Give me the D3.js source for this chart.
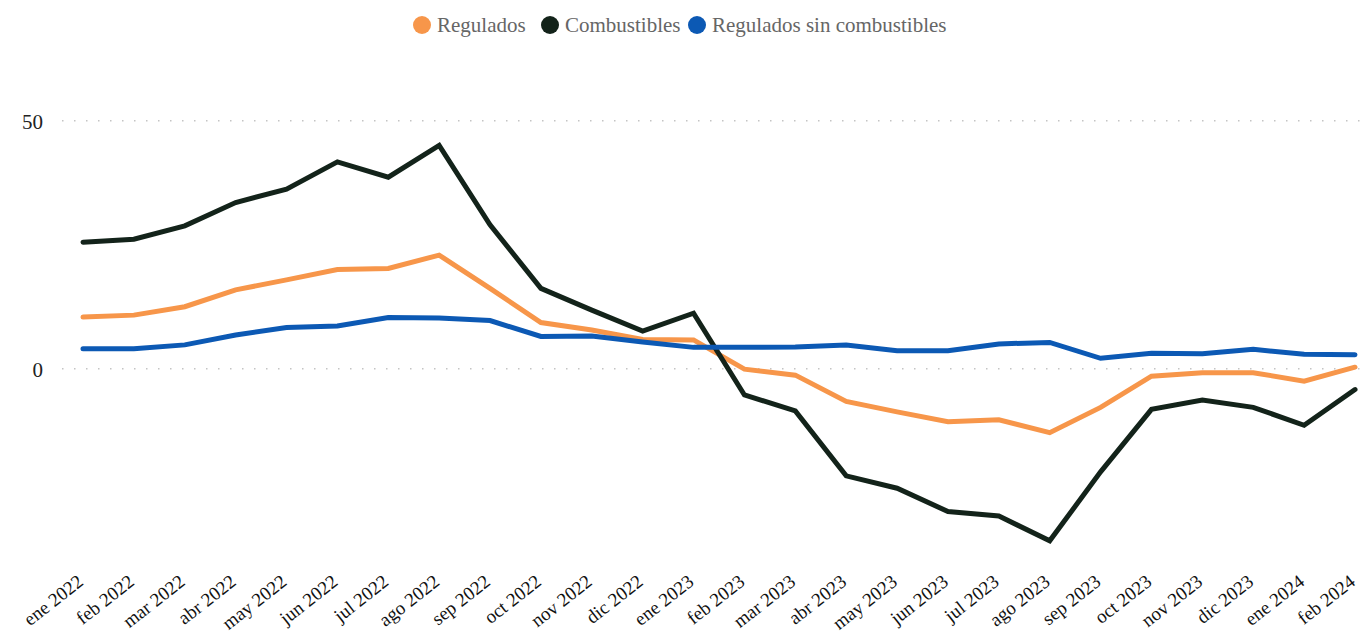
<!DOCTYPE html>
<html><head><meta charset="utf-8">
<script src="https://cdn.jsdelivr.net/npm/d3@7"></script>
<style>body{margin:0;background:#fff;overflow:hidden}</style>
</head><body><svg id="c" width="1361" height="633"></svg>
<script>
const months = ["ene 2022","feb 2022","mar 2022","abr 2022","may 2022","jun 2022","jul 2022","ago 2022","sep 2022","oct 2022","nov 2022","dic 2022","ene 2023","feb 2023","mar 2023","abr 2023","may 2023","jun 2023","jul 2023","ago 2023","sep 2023","oct 2023","nov 2023","dic 2023","ene 2024","feb 2024"];
const regulados = [10.4,10.8,12.5,15.9,17.9,20.0,20.2,22.9,16.2,9.3,7.8,5.9,5.8,-0.1,-1.3,-6.6,-8.7,-10.7,-10.3,-12.9,-7.8,-1.5,-0.8,-0.8,-2.5,0.3];
const combustibles = [25.5,26.1,28.8,33.5,36.2,41.7,38.6,45.0,29.0,16.2,11.8,7.6,11.2,-5.3,-8.5,-21.6,-24.1,-28.8,-29.7,-34.7,-20.8,-8.2,-6.3,-7.8,-11.4,-4.2];
const reguladosSin = [4.0,4.0,4.8,6.8,8.3,8.6,10.3,10.2,9.7,6.5,6.6,5.4,4.3,4.3,4.4,4.8,3.6,3.6,5.0,5.3,2.1,3.1,3.0,3.9,2.9,2.8];
const yTicks = [0,50];
const seriesNames = ["Regulados","Combustibles","Regulados sin combustibles"];
const seriesColors = ["#F7964A","#13231A","#0C59B4"];

const svg = d3.select("#c");
const font = "'Liberation Serif','Times New Roman',serif";
const x = d3.scalePoint().domain(months).range([83,1355]);
const y = d3.scaleLinear().domain([0,50]).range([368.7,120.7]);

// grid
const yAxis = d3.axisLeft(y).tickValues(yTicks).tickSize(0).tickPadding(0);
const gy = svg.append("g").attr("transform","translate(43,0)").call(yAxis);
gy.select(".domain").remove();
gy.selectAll("text").attr("font-family",font).attr("font-size",21).attr("fill","#222").attr("x",0).attr("dy","0.35em");
svg.append("g").selectAll("line").data(yTicks).join("line")
  .attr("x1",62).attr("x2",1361).attr("y1",d=>y(d)).attr("y2",d=>y(d))
  .attr("stroke","#c4c4c4").attr("stroke-width",1.5).attr("stroke-dasharray","1.5,10.5");

// x axis labels
const xAxis = d3.axisBottom(x).tickSize(0).tickPadding(0);
const gx = svg.append("g").attr("transform","translate(0,584)").call(xAxis);
gx.select(".domain").remove();
gx.selectAll("text").attr("font-family",font).attr("font-size",19).attr("fill","#111")
  .attr("text-anchor","end").attr("dy",0).attr("y",0).attr("x",0)
  .attr("transform","translate(1,0) rotate(-38)");

// lines
const data = [regulados, combustibles, reguladosSin];
const line = d3.line().x((d,i)=>x(months[i])).y(d=>y(d));
svg.append("g").selectAll("path").data(data).join("path")
  .attr("d",line).attr("fill","none")
  .attr("stroke",(d,i)=>seriesColors[i]).attr("stroke-width",5)
  .attr("stroke-linejoin","miter").attr("stroke-linecap","round");

// legend
const lg = svg.append("g").attr("transform","translate(0,25)");
const lx = [422, 550, 697];
seriesNames.forEach((n,i)=>{
  lg.append("circle").attr("cx",lx[i]).attr("cy",0).attr("r",9).attr("fill",seriesColors[i]);
  lg.append("text").attr("x",lx[i]+15).attr("y",0).attr("dy","0.35em")
    .attr("font-family",font).attr("font-size",21).attr("fill","#666").text(n);
});
</script></body></html>
